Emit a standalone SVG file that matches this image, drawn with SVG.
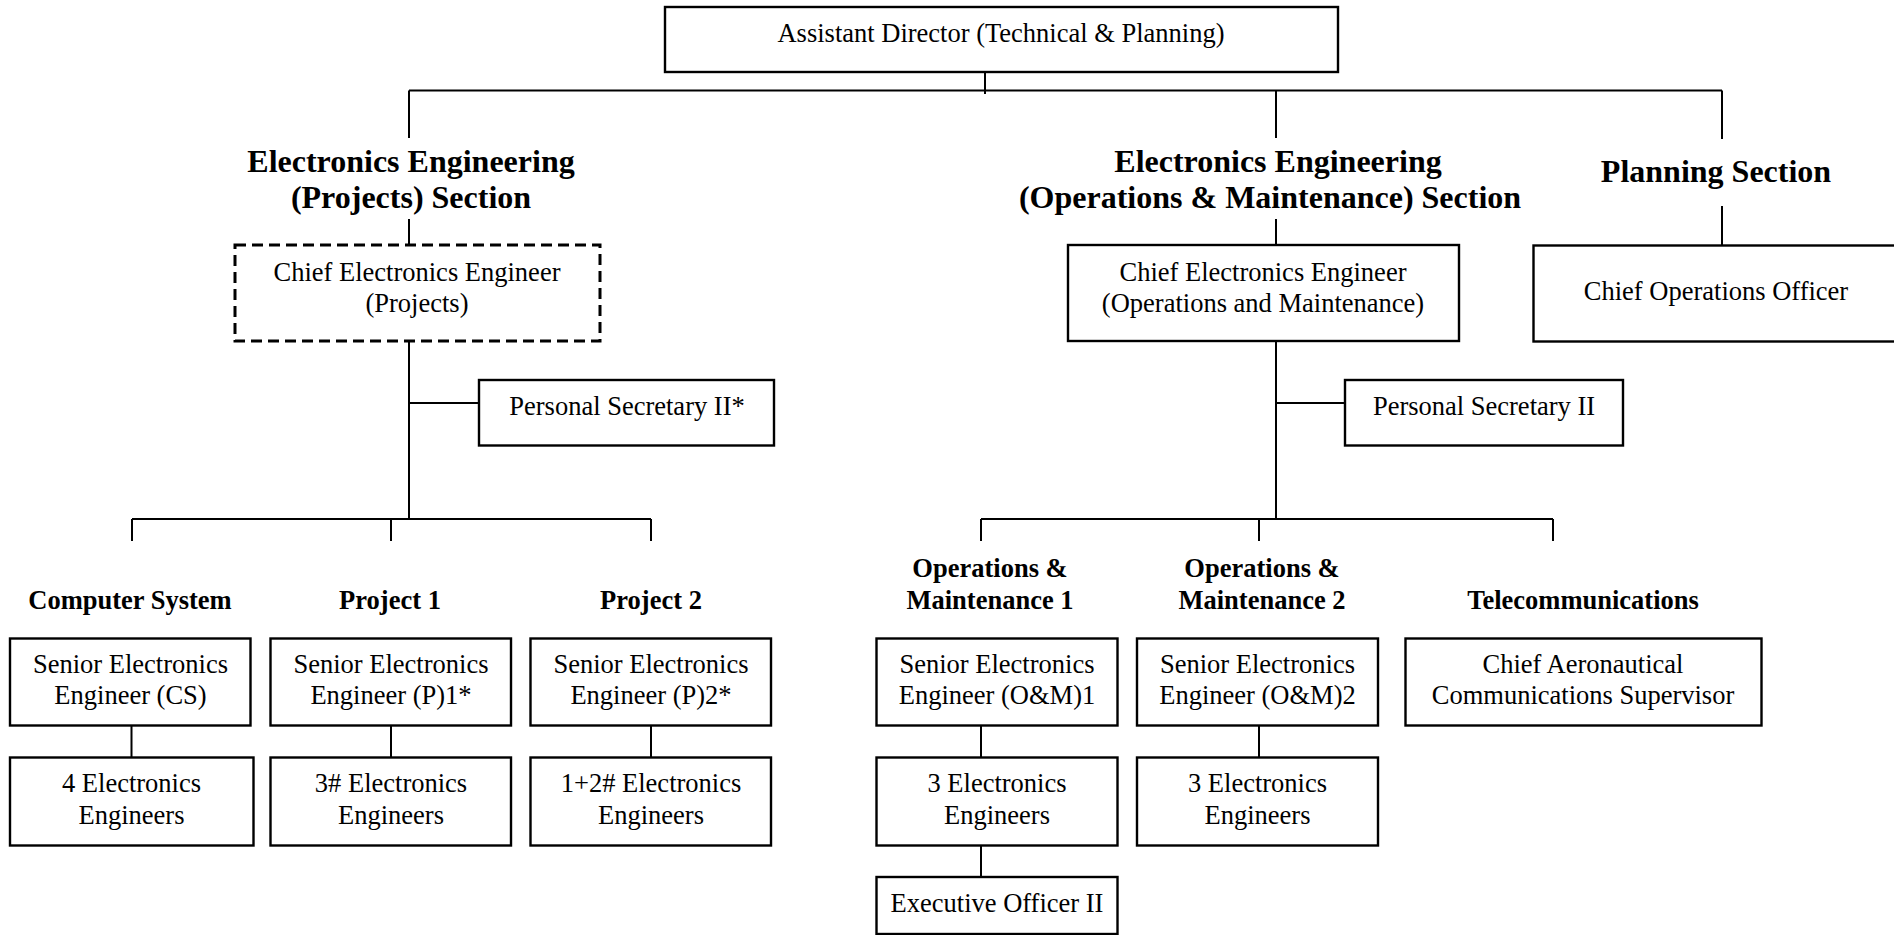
<svg xmlns="http://www.w3.org/2000/svg" width="1894" height="935" viewBox="0 0 1894 935">
<style>
.box{fill:#fff;stroke:#000;stroke-width:2.4}
.dash{fill:#fff;stroke:#000;stroke-width:3;stroke-dasharray:11 6}
.t{font-family:"Liberation Serif","Times New Roman",serif;font-size:26.5px;fill:#000;text-anchor:middle}
.h{font-family:"Liberation Serif","Times New Roman",serif;font-size:32px;font-weight:bold;fill:#000;text-anchor:middle}
.s{font-family:"Liberation Serif","Times New Roman",serif;font-size:26.5px;font-weight:bold;fill:#000;text-anchor:middle}
.c{fill:none;stroke:#000;stroke-width:2}
</style>
<rect width="1894" height="935" fill="#fff"/>
<g id="connectors">
<path class="c" d="M985,72V94M409,90.5H1722M409,90.5V138M1276,90.5V138M1722,90.5V139"/>
<path class="c" d="M409,219V245M1276,219V245M1722,206V245"/>
<path class="c" d="M409,341V519M409,403H479M132,519H651M132,519V541M391,519V541M651,519V541"/>
<path class="c" d="M1276,341V519M1276,403H1345M981,519H1553M981,519V541M1259,519V541M1553,519V541"/>
<path class="c" d="M131.5,726V757M391,726V757M651,726V757M981,726V757M1259,726V757M981,846V877"/>
</g>
<g id="assistant-director">
<rect class="box" x="665" y="7" width="673" height="65"/>
<text class="t" x="1001" y="42">Assistant Director (Technical &amp; Planning)</text>
</g>
<g id="section-projects">
<text class="h" x="411" y="172">Electronics Engineering</text>
<text class="h" x="411" y="208">(Projects) Section</text>
</g>
<g id="section-om">
<text class="h" x="1278" y="172">Electronics Engineering</text>
<text class="h" x="1270" y="208">(Operations &amp; Maintenance) Section</text>
</g>
<g id="section-planning">
<text class="h" x="1716" y="182">Planning Section</text>
</g>
<g id="cee-projects">
<rect class="dash" x="235" y="245" width="365" height="96"/>
<text class="t" x="417" y="281">Chief Electronics Engineer</text>
<text class="t" x="417" y="312">(Projects)</text>
</g>
<g id="cee-om">
<rect class="box" x="1068" y="245" width="391" height="96"/>
<text class="t" x="1263" y="281">Chief Electronics Engineer</text>
<text class="t" x="1263" y="312">(Operations and Maintenance)</text>
</g>
<g id="coo">
<rect class="box" x="1533.5" y="245.5" width="380" height="96"/>
<text class="t" x="1716" y="300">Chief Operations Officer</text>
</g>
<g id="ps-projects">
<rect class="box" x="479" y="380" width="295" height="65.5"/>
<text class="t" x="627" y="415">Personal Secretary II*</text>
</g>
<g id="ps-om">
<rect class="box" x="1345" y="380" width="278" height="65.5"/>
<text class="t" x="1484" y="415">Personal Secretary II</text>
</g>
<g id="computer-system">
<text class="s" x="130" y="609">Computer System</text>
<rect class="box" x="10" y="638.5" width="240.5" height="87"/>
<text class="t" x="130.5" y="673">Senior Electronics</text>
<text class="t" x="130.5" y="704">Engineer (CS)</text>
</g>
<g id="cs-engineers">
<rect class="box" x="10" y="757.5" width="243.5" height="88"/>
<text class="t" x="131.5" y="792">4 Electronics</text>
<text class="t" x="131.5" y="824">Engineers</text>
</g>
<g id="project-1">
<text class="s" x="390" y="609">Project 1</text>
<rect class="box" x="270.5" y="638.5" width="240.5" height="87"/>
<text class="t" x="391" y="673">Senior Electronics</text>
<text class="t" x="391" y="704">Engineer (P)1*</text>
</g>
<g id="p1-engineers">
<rect class="box" x="270.5" y="757.5" width="240.5" height="88"/>
<text class="t" x="391" y="792">3# Electronics</text>
<text class="t" x="391" y="824">Engineers</text>
</g>
<g id="project-2">
<text class="s" x="651" y="609">Project 2</text>
<rect class="box" x="530.5" y="638.5" width="240.5" height="87"/>
<text class="t" x="651" y="673">Senior Electronics</text>
<text class="t" x="651" y="704">Engineer (P)2*</text>
</g>
<g id="p2-engineers">
<rect class="box" x="530.5" y="757.5" width="240.5" height="88"/>
<text class="t" x="651" y="792">1+2# Electronics</text>
<text class="t" x="651" y="824">Engineers</text>
</g>
<g id="om-1">
<text class="s" x="990" y="577">Operations &amp;</text>
<text class="s" x="990" y="609">Maintenance 1</text>
<rect class="box" x="876.5" y="638.5" width="241" height="87"/>
<text class="t" x="997" y="673">Senior Electronics</text>
<text class="t" x="997" y="704">Engineer (O&amp;M)1</text>
</g>
<g id="om1-engineers">
<rect class="box" x="876.5" y="757.5" width="241" height="88"/>
<text class="t" x="997" y="792">3 Electronics</text>
<text class="t" x="997" y="824">Engineers</text>
</g>
<g id="executive-officer">
<rect class="box" x="876.5" y="877" width="241" height="57"/>
<text class="t" x="997" y="912">Executive Officer II</text>
</g>
<g id="om-2">
<text class="s" x="1262" y="577">Operations &amp;</text>
<text class="s" x="1262" y="609">Maintenance 2</text>
<rect class="box" x="1137" y="638.5" width="241" height="87"/>
<text class="t" x="1257.5" y="673">Senior Electronics</text>
<text class="t" x="1257.5" y="704">Engineer (O&amp;M)2</text>
</g>
<g id="om2-engineers">
<rect class="box" x="1137" y="757.5" width="241" height="88"/>
<text class="t" x="1257.5" y="792">3 Electronics</text>
<text class="t" x="1257.5" y="824">Engineers</text>
</g>
<g id="telecommunications">
<text class="s" x="1583" y="609">Telecommunications</text>
<rect class="box" x="1405.5" y="638.5" width="356" height="87"/>
<text class="t" x="1583" y="673">Chief Aeronautical</text>
<text class="t" x="1583" y="704">Communications Supervisor</text>
</g>
</svg>
